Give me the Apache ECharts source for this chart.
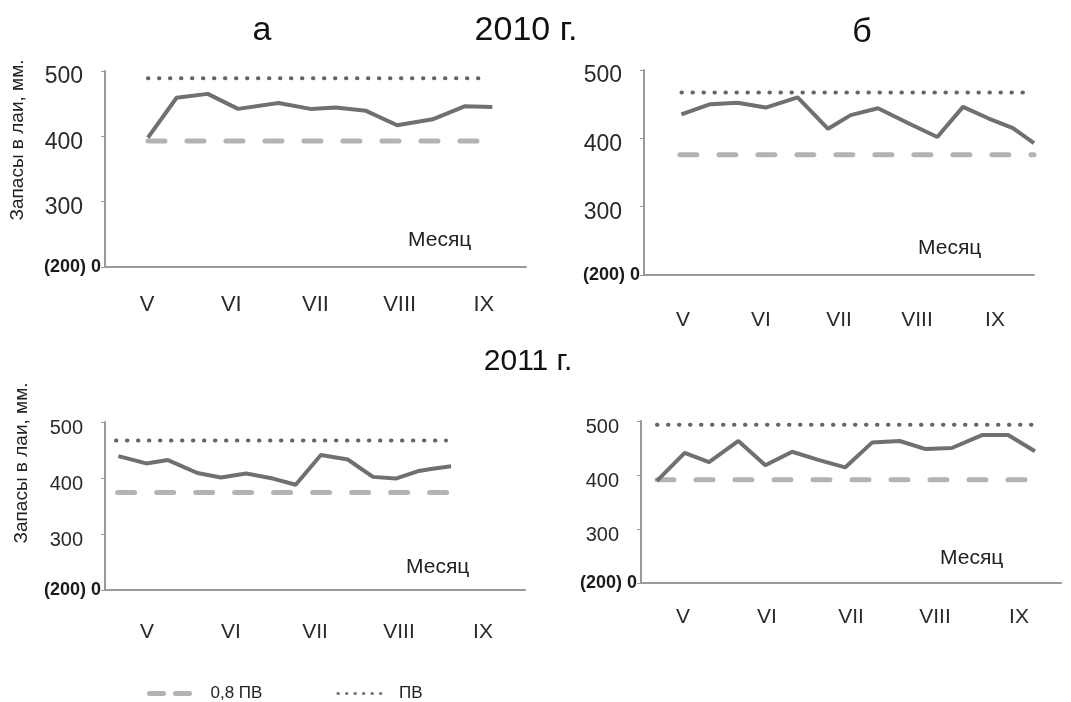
<!DOCTYPE html>
<html>
<head>
<meta charset="utf-8">
<script src="https://cdn.jsdelivr.net/npm/echarts@6/dist/echarts.min.js"></script>
<style>
  html, body { margin: 0; padding: 0; background: #fff; }
  #chart { width: 1071px; height: 702px; }
</style>
</head>
<body>
<div id="chart"></div>
<script>
var months = ['V', 'VI', 'VII', 'VIII', 'IX'];
var yTicks = [200, 300, 400, 500];

// 2010, panel а (x in month units from start of May)
var posA = [0.51, 0.85, 1.22, 1.58, 2.06, 2.44, 2.74, 3.10, 3.47, 3.89, 4.27, 4.60];
var valA = [398, 459, 465, 442, 451, 442, 444, 439, 417, 426, 446, 445];
var pvA = 489, pv08A = 393;
var spanPvA = [0.51, 4.52], span08A = [0.51, 4.47];

// 2010, panel б
var posB = [0.48, 0.85, 1.20, 1.56, 1.97, 2.36, 2.65, 3.00, 3.39, 3.76, 4.09, 4.42, 4.73, 5.00];
var valB = [435, 450, 452, 445, 460, 414, 434, 444, 422, 402, 446, 429, 415, 393];
var pvB = 467, pv08B = 376;
var spanPvB = [0.48, 4.92], span08B = [0.46, 5.00];

// 2011, left panel
var posC = [0.16, 0.49, 0.75, 1.10, 1.38, 1.68, 2.00, 2.27, 2.57, 2.89, 3.19, 3.46, 3.72, 3.88, 4.12];
var valC = [439, 426, 432, 409, 401, 408, 399, 388, 441, 433, 402, 399, 412, 416, 421];
var pvC = 467, pv08C = 374;
var spanPvC = [0.13, 4.06], span08C = [0.15, 4.14];

// 2011, right panel
var posD = [0.19, 0.52, 0.81, 1.16, 1.48, 1.80, 2.11, 2.43, 2.75, 3.08, 3.39, 3.70, 4.06, 4.37, 4.69];
var valD = [389, 441, 424, 463, 418, 443, 428, 414, 460, 463, 448, 450, 474, 474, 444];
var pvD = 493, pv08D = 391;
var spanPvD = [0.19, 4.67], span08D = [0.19, 4.61];

var chart = echarts.init(document.getElementById('chart'));

var axisGray = '#9a9a9a';
var sans = '"Liberation Sans", Arial, sans-serif';
var dashStyle = { color: '#b3b3b3', width: 5, type: [17, 22], cap: 'round' };
var dotStyle = { color: '#666', width: 4, type: [0.5, 10.5], cap: 'round' };

var panels = [
    { grid: { left: 105, top: 71, width: 421, height: 196 }, pos: posA, val: valA, pv: pvA, pv08: pv08A, spanPv: spanPvA, span08: span08A, yFont: 23, mFont: 22, mMargin: 27 },
    { grid: { left: 644, top: 70, width: 390, height: 205 }, pos: posB, val: valB, pv: pvB, pv08: pv08B, spanPv: spanPvB, span08: span08B, yFont: 23, mFont: 21, mMargin: 35 },
    { grid: { left: 105, top: 422, width: 420, height: 168 }, pos: posC, val: valC, pv: pvC, pv08: pv08C, spanPv: spanPvC, span08: span08C, yFont: 20, mFont: 21, mMargin: 32 },
    { grid: { left: 641, top: 421, width: 420, height: 162 }, pos: posD, val: valD, pv: pvD, pv08: pv08D, spanPv: spanPvD, span08: span08D, yFont: 20, mFont: 21, mMargin: 24 }
];

var grids = [], xAxes = [], yAxes = [], series = [];

function pairs(xs, ys) {
    return xs.map(function (x, i) { return [x, ys[i]]; });
}

panels.forEach(function (p, i) {
    grids.push(p.grid);
    xAxes.push({
        type: 'category',
        gridIndex: i,
        data: months,
        boundaryGap: true,
        axisLine: { lineStyle: { color: axisGray, width: 2 } },
        axisTick: { length: 9, lineStyle: { color: axisGray, width: 2 } },
        axisLabel: { margin: p.mMargin, fontSize: p.mFont, fontFamily: sans, color: '#2a2a2a' }
    });
    xAxes.push({ type: 'value', gridIndex: i, min: 0, max: 5, show: false });
    yAxes.push({
        type: 'value',
        gridIndex: i,
        min: 200,
        max: 500,
        interval: 100,
        splitLine: { show: false },
        axisLine: { show: true, lineStyle: { color: axisGray, width: 2 } },
        axisTick: { show: true, length: 4, lineStyle: { color: axisGray, width: 1 } },
        axisLabel: {
            margin: 4,
            formatter: function (v) {
                return v === yTicks[0] ? '{b|(200) 0}' : '{n|' + v + '}';
            },
            rich: {
                n: { fontSize: p.yFont, fontFamily: sans, color: '#2a2a2a', padding: [12, 18, 0, 0] },
                b: { fontSize: 18, fontWeight: 'bold', fontFamily: sans, color: '#1a1a1a' }
            }
        }
    });
    series.push({
        name: '0,8 ПВ',
        type: 'line',
        xAxisIndex: 2 * i + 1,
        yAxisIndex: i,
        data: pairs(p.span08, [p.pv08, p.pv08]),
        symbol: 'none',
        silent: true,
        lineStyle: dashStyle,
        itemStyle: { color: '#b3b3b3' }
    });
    series.push({
        name: 'ПВ',
        type: 'line',
        xAxisIndex: 2 * i + 1,
        yAxisIndex: i,
        data: pairs(p.spanPv, [p.pv, p.pv]),
        symbol: 'none',
        silent: true,
        lineStyle: dotStyle,
        itemStyle: { color: '#666' }
    });
    series.push({
        name: 'Запасы',
        type: 'line',
        xAxisIndex: 2 * i + 1,
        yAxisIndex: i,
        data: pairs(p.pos, p.val),
        symbol: 'none',
        z: 3,
        lineStyle: { color: '#707070', width: 4 }
    });
});

function txt(text, x, y, size, extra) {
    var s = { text: text, x: x, y: y, fontSize: size, fontFamily: sans, fill: '#111', align: 'center', verticalAlign: 'middle' };
    for (var k in extra) s[k] = extra[k];
    return { type: 'text', style: s };
}

var rotated = function (text, x, y) {
    var t = txt(text, 0, 0, 19, { fill: '#222' });
    t.x = x; t.y = y; t.rotation = Math.PI / 2;
    return t;
};

var option = {
    animation: false,
    backgroundColor: '#fff',
    grid: grids,
    xAxis: xAxes,
    yAxis: yAxes,
    series: series,
    legend: {
        data: [
            { name: '0,8 ПВ', lineStyle: { width: 5, type: [14, 12], color: '#b3b3b3', cap: 'round' } },
            { name: 'ПВ', lineStyle: { width: 3, type: [0.5, 8], color: '#777', cap: 'round' } }
        ],
        left: 142,
        top: 680,
        itemWidth: 46,
        itemHeight: 14,
        itemGap: 74,
        itemStyle: { opacity: 0 },
        textStyle: { fontSize: 17, fontFamily: sans, color: '#222', padding: [0, 0, 0, 10] }
    },
    graphic: [
        txt('а', 262, 31, 34),
        txt('2010 г.', 526, 31, 34),
        txt('б', 862, 33, 34),
        txt('2011 г.', 528, 362, 30),
        rotated('Запасы в лаи, мм.', 18, 140),
        rotated('Запасы в лаи, мм.', 22, 463),
        txt('Месяц', 408, 240, 21, { align: 'left', fill: '#222' }),
        txt('Месяц', 918, 248, 21, { align: 'left', fill: '#222' }),
        txt('Месяц', 406, 567, 21, { align: 'left', fill: '#222' }),
        txt('Месяц', 940, 558, 21, { align: 'left', fill: '#222' })
    ]
};

chart.setOption(option);
</script>
</body>
</html>
